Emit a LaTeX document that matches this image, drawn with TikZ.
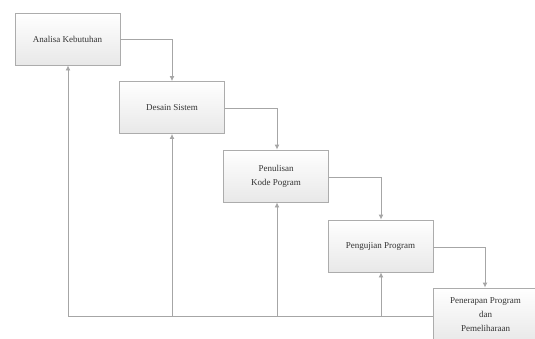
\documentclass[tikz,border=0pt]{standalone}
\usepackage{fontspec}
\setmainfont{Liberation Serif}
\usetikzlibrary{arrows.meta}
\begin{document}
\begin{tikzpicture}[x=1pt,y=-1pt,
  stage/.style={draw=gray!65, line width=0.9pt, top color=white, bottom color=gray!18,
    minimum width=105pt, minimum height=52pt, inner sep=2pt, align=center,
    font=\fontsize{9}{14}\selectfont, text=black!80},
  flow/.style={draw=gray!70, line width=0.9pt, -{Latex[length=5pt,width=5pt]}},
  back/.style={draw=gray!70, line width=0.9pt}]
\useasboundingbox (0,0) rectangle (535,338);
\node[stage] (a) at (67.5,39) {Analisa Kebutuhan};
\node[stage] (b) at (172,107.5) {Desain Sistem};
\node[stage] (c) at (276,176) {Penulisan\\Kode Pogram};
\node[stage] (d) at (380.5,246) {Pengujian Program};
\node[stage, minimum height=54pt] (e) at (485.5,315) {Penerapan Program\\dan\\Pemeliharaan};
\coordinate (m1) at (172,39);
\coordinate (m2) at (277,108);
\coordinate (m3) at (381,177);
\coordinate (m4) at (485,247);
\coordinate (base) at (68,316);
\coordinate (f2) at (277,316);
\coordinate (f3) at (381,316);
\draw[flow] (a.east |- m1) -| (b.north);
\draw[flow] (b.east |- m2) -| (c.north -| m2);
\draw[flow] (c.east |- m3) -| (d.north -| m3);
\draw[flow] (d.east |- m4) -| (e.north -| m4);
\draw[back] (e.west |- base) -- (base);
\draw[flow] (base) -- (a.south -| base);
\draw[flow] (b.south |- base) -- (b.south);
\draw[flow] (f2) -- (c.south -| f2);
\draw[flow] (f3) -- (d.south -| f3);
\end{tikzpicture}
\end{document}
